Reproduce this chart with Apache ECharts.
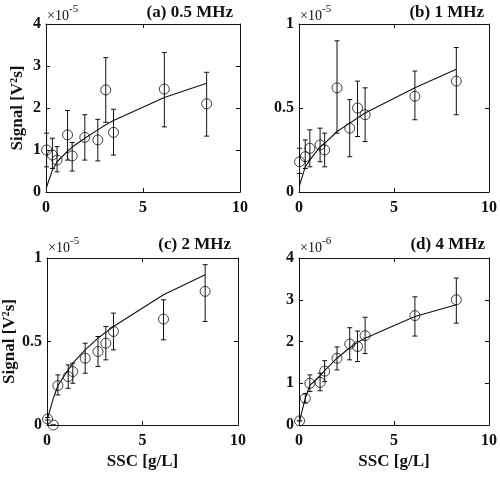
<!DOCTYPE html>
<html>
<head>
<meta charset="utf-8">
<script src="https://cdn.jsdelivr.net/npm/echarts@6/dist/echarts.min.js"></script>
<style>
    html, body { margin: 0; padding: 0; background: #fff; }
    #chart { width: 500px; height: 480px; }
</style>
</head>
<body>
<div id="chart"></div>
<script>
    'use strict';

    // SSC concentrations [g/L]
    var ssc = [0.03, 0.33, 0.57, 1.11, 1.35, 2.0, 2.67, 3.08, 3.48, 6.1, 8.28];

    // (a) 0.5 MHz, x1e-5
    var sigA = [1.0, 0.88, 0.76, 1.36, 0.86, 1.3, 1.24, 2.43, 1.42, 2.45, 2.1];
    var loA = [0.6, 0.56, 0.48, 0.76, 0.5, 0.76, 0.74, 1.66, 0.88, 1.55, 1.33];
    var hiA = [1.4, 1.28, 1.08, 1.94, 1.18, 1.84, 1.73, 3.2, 1.97, 3.32, 2.85];
    var fitA = [0.12, 0.52, 0.72, 0.97, 1.07, 1.28, 1.48, 1.6, 1.7, 2.25, 2.59];

    // (b) 1 MHz, x1e-5
    var sigB = [0.18, 0.21, 0.26, 0.28, 0.25, 0.62, 0.38, 0.5, 0.46, 0.57, 0.66];
    var loB = [0.11, 0.14, 0.15, 0.18, 0.15, 0.35, 0.21, 0.33, 0.3, 0.43, 0.46];
    var hiB = [0.26, 0.31, 0.37, 0.38, 0.35, 0.9, 0.55, 0.66, 0.62, 0.72, 0.86];
    var fitB = [0.04, 0.15, 0.19, 0.27, 0.29, 0.36, 0.41, 0.44, 0.47, 0.62, 0.73];

    // (c) 2 MHz, x1e-5
    var sigC = [0.036, 0.0, 0.236, 0.29, 0.32, 0.4, 0.44, 0.49, 0.56, 0.634, 0.8];
    var loC = [0.03, 0.0, 0.18, 0.22, 0.25, 0.31, 0.35, 0.39, 0.45, 0.51, 0.62];
    var hiC = [0.045, 0.0, 0.3, 0.36, 0.37, 0.49, 0.53, 0.59, 0.67, 0.75, 0.96];
    var fitC = [0.04, 0.16, 0.235, 0.33, 0.37, 0.45, 0.52, 0.555, 0.59, 0.78, 0.9];

    // (d) 4 MHz, x1e-6
    var sigD = [0.1, 0.64, 1.0, 1.02, 1.29, 1.6, 1.94, 1.88, 2.14, 2.62, 3.0];
    var loD = [0.1, 0.53, 0.8, 0.82, 1.04, 1.32, 1.56, 1.52, 1.71, 2.13, 2.44];
    var hiD = [0.1, 0.75, 1.2, 1.24, 1.54, 1.87, 2.33, 2.25, 2.58, 3.07, 3.52];
    var fitD = [0.1, 0.64, 0.95, 1.18, 1.3, 1.6, 1.85, 1.98, 2.08, 2.6, 2.88];

    var xTicks = [0, 5, 10];
    var panels = [
        { title: '(a) 0.5 MHz', exp: '-5', ymax: 4, step: 1, sig: sigA, lo: loA, hi: hiA, fit: fitA },
        { title: '(b) 1 MHz', exp: '-5', ymax: 1, step: 0.5, sig: sigB, lo: loB, hi: hiB, fit: fitB },
        { title: '(c) 2 MHz', exp: '-5', ymax: 1, step: 0.5, sig: sigC, lo: loC, hi: hiC, fit: fitC },
        { title: '(d) 4 MHz', exp: '-6', ymax: 4, step: 1, sig: sigD, lo: loD, hi: hiD, fit: fitD }
    ];

    var FONT = '"Liberation Serif", "DejaVu Serif", serif';
    var INK = '#111';

    // plot boxes (pixels)
    var boxes = [
        { left: 46, top: 24, width: 194, height: 168 },
        { left: 299, top: 24, width: 192, height: 168 },
        { left: 47, top: 258, width: 191, height: 167 },
        { left: 299, top: 258, width: 193, height: 167 }
    ];

    var grids = [], xAxes = [], yAxes = [], series = [], graphics = [];

    function fmtY(v) {
        return String(Math.round(v * 10) / 10);
    }

    panels.forEach(function (p, i) {
        var b = boxes[i];
        grids.push({ left: b.left, top: b.top, width: b.width, height: b.height, containLabel: false });

        var bottomRow = i >= 2, leftCol = i % 2 === 0;
        var lineStyle = { color: INK, width: 1 };
        var tick = { show: true, inside: true, length: 4, lineStyle: lineStyle };

        // bottom and top x axes
        xAxes.push({
            type: 'value', gridIndex: i, min: xTicks[0], max: xTicks[2], interval: 5,
            axisLine: { onZero: false, lineStyle: lineStyle },
            axisTick: tick, splitLine: { show: false },
            axisLabel: { margin: 8, color: INK, fontFamily: FONT, fontWeight: 'bold', fontSize: 16 },
            name: bottomRow ? 'SSC [g/L]' : '', nameLocation: 'middle', nameGap: 28,
            nameTextStyle: { color: INK, fontFamily: FONT, fontWeight: 'bold', fontSize: 17 }
        });
        xAxes.push({
            type: 'value', gridIndex: i, position: 'top', min: 0, max: 10, interval: 5,
            axisLine: { onZero: false, lineStyle: lineStyle },
            axisTick: tick, axisLabel: { show: false }, splitLine: { show: false }
        });

        // left and right y axes
        yAxes.push({
            type: 'value', gridIndex: i, min: 0, max: p.ymax, interval: p.step,
            axisLine: { show: true, onZero: false, lineStyle: lineStyle },
            axisTick: tick, splitLine: { show: false },
            axisLabel: { margin: 5, color: INK, fontFamily: FONT, fontWeight: 'bold', fontSize: 16, formatter: fmtY },
            name: leftCol ? 'Signal [V²s]' : '', nameLocation: 'middle', nameGap: bottomRow ? 28 : 20,
            nameTextStyle: { color: INK, fontFamily: FONT, fontWeight: 'bold', fontSize: 17 }
        });
        yAxes.push({
            type: 'value', gridIndex: i, position: 'right', min: 0, max: p.ymax, interval: p.step,
            axisLine: { show: true, onZero: false, lineStyle: lineStyle },
            axisTick: tick, axisLabel: { show: false }, splitLine: { show: false }
        });

        var pts = [], bars = [], fit = [];
        for (var k = 0; k < ssc.length; k++) {
            pts.push([ssc[k], p.sig[k]]);
            bars.push([ssc[k], p.lo[k], p.hi[k]]);
            fit.push([ssc[k], p.fit[k]]);
        }

        // fitted curve
        series.push({
            type: 'line', xAxisIndex: i * 2, yAxisIndex: i * 2, data: fit,
            showSymbol: false, symbol: 'none', smooth: false,
            lineStyle: { color: INK, width: 1.1 }, z: 3
        });

        // error bars
        series.push({
            type: 'custom', xAxisIndex: i * 2, yAxisIndex: i * 2, data: bars, z: 4,
            renderItem: function (params, api) {
                var top = api.coord([api.value(0), api.value(2)]);
                var bot = api.coord([api.value(0), api.value(1)]);
                var w = 2.5;
                var st = { stroke: INK, lineWidth: 1 };
                return {
                    type: 'group',
                    children: [
                        { type: 'line', shape: { x1: top[0], y1: top[1], x2: bot[0], y2: bot[1] }, style: st },
                        { type: 'line', shape: { x1: top[0] - w, y1: top[1], x2: top[0] + w, y2: top[1] }, style: st },
                        { type: 'line', shape: { x1: bot[0] - w, y1: bot[1], x2: bot[0] + w, y2: bot[1] }, style: st }
                    ]
                };
            }
        });

        // measurements
        series.push({
            type: 'scatter', xAxisIndex: i * 2, yAxisIndex: i * 2, data: pts,
            symbol: 'circle', symbolSize: 10,
            itemStyle: { color: 'rgba(0,0,0,0)', borderColor: INK, borderWidth: 1 }, z: 5
        });

        // panel title and exponent note
        var ty = bottomRow ? 245 : 13;
        graphics.push({
            type: 'text', x: b.left + b.width - 7, y: ty,
            style: { text: p.title, font: 'bold 17px ' + FONT, fill: INK, textAlign: 'right', textVerticalAlign: 'middle' }
        });
        graphics.push({
            type: 'text', x: b.left + 1, y: ty + 3,
            style: { text: '×10', font: '14px ' + FONT, fill: INK, textVerticalAlign: 'middle' }
        });
        graphics.push({
            type: 'text', x: b.left + 23, y: ty - 4,
            style: { text: p.exp, font: '11px ' + FONT, fill: INK, textVerticalAlign: 'middle' }
        });
    });

    var myChart = echarts.init(document.getElementById('chart'), null, { renderer: 'canvas' });
    myChart.setOption({
        backgroundColor: '#fff',
        animation: false,
        grid: grids,
        xAxis: xAxes,
        yAxis: yAxes,
        series: series,
        graphic: graphics
    });
</script>
</body>
</html>
